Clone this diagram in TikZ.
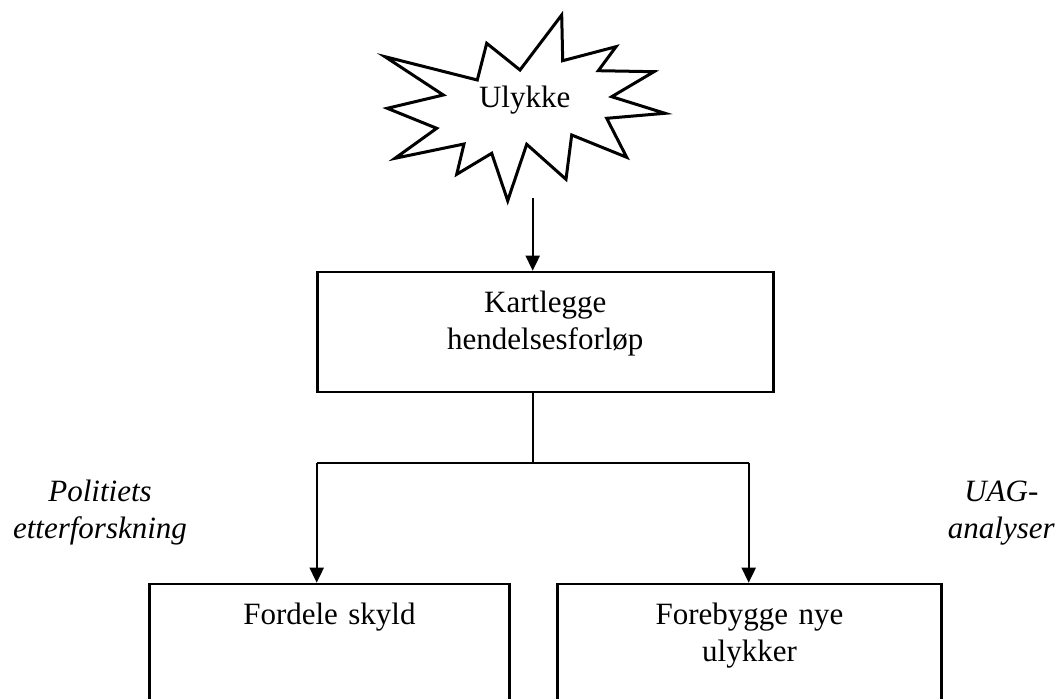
\documentclass[tikz,border=0pt]{standalone}
\usepackage{fontspec}
\setmainfont{Liberation Serif}
\usetikzlibrary{arrows.meta}

\tikzset{
	box/.style={draw=black,line width=2.7pt,inner sep=0pt,align=center,text height=40.6pt},
	link/.style={line width=2pt},
	arr/.style={line width=2pt,-{Triangle[length=15pt,width=14pt]}},
	burst/.style={draw=black,line width=3pt,line join=miter},
	side/.style={inner sep=0pt,text width=220pt,align=center,font=\fontsize{31}{36.7}\selectfont\itshape}
}

\begin{document}
\begin{tikzpicture}[x=1pt,y=-1pt,every node/.style={font=\fontsize{31}{36.7}\selectfont}]

			\path[use as bounding box,clip] (0,0) rectangle (1059,698);

			\draw[burst] (561.7,15) -- (562.7,60.7) -- (616,46.7) -- (598.3,70.7) -- (654,71.7)
				-- (611.7,96.7) -- (665,113.3) -- (606.7,118.3) -- (626.7,157.3) -- (571.7,135)
				-- (566,179.3) -- (526.7,144.3) -- (507.7,200.7) -- (491.7,153.3) -- (456.7,174.3)
				-- (464,144) -- (395,158.3) -- (436.7,128.3) -- (387.3,108.3) -- (443.3,95)
				-- (385,56.7) -- (477.3,80) -- (486.7,43.3) -- (520,70) -- cycle;
			\node[inner sep=0pt,anchor=base] (ulykke) at (524.7,107) {Ulykke};

			\node[box,anchor=north,minimum width=456pt,text width=440pt,text depth=79.4pt] (kart) at (545.3,270.7) {Kartlegge\\hendelsesforløp};
			\node[box,anchor=north,minimum width=360pt,text width=340pt,text depth=139.4pt] (skyld) at (329.4,582.7) {Fordele skyld};
			\node[box,anchor=north,minimum width=384pt,text width=360pt,text depth=139.4pt] (forebygg) at (749.5,582.7) {Forebygge nye\\ulykker};

			\node[side,anchor=base] (politi) at (100,501.7) {Politiets\\etterforskning};
			\node[side,anchor=base] (uag) at (1001.3,501.7) {UAG-\\analyser};

			\coordinate (burstend) at (532.7,198.3);
			\coordinate (split) at (532.7,462.7);
			\coordinate (jl) at (316.7,462.7);
			\coordinate (jr) at (748.7,462.7);

			\draw[arr] (burstend) -- (burstend |- kart.north);
			\draw[link] (kart.south -| split) -- (split);
			\draw[link] (jl) -- (jr);
			\draw[arr] (jl) -- (jl |- skyld.north);
			\draw[arr] (jr) -- (jr |- forebygg.north);
		\end{tikzpicture}
\end{document}
